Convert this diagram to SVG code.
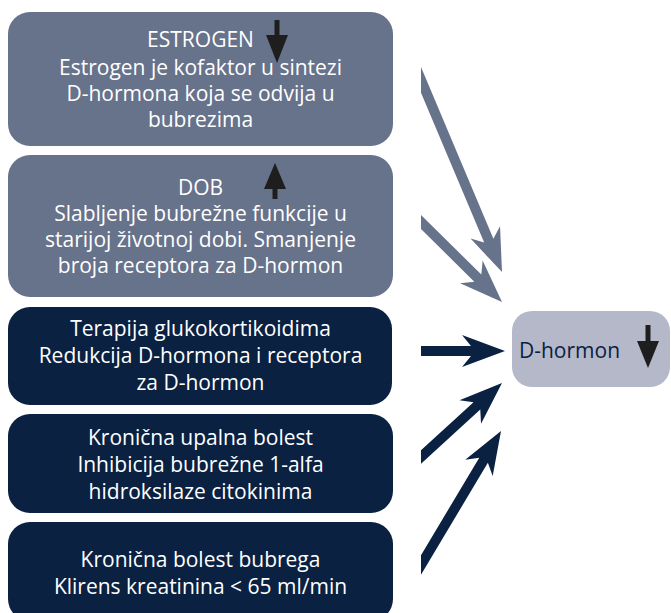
<svg xmlns="http://www.w3.org/2000/svg" width="671" height="613" viewBox="0 0 671 613">
<style>
.gray{fill:#67728b}
.navy{fill:#0a2142}
.t{font-family:"Open Sans","Liberation Sans",sans-serif;font-size:21px;fill:#ffffff;text-anchor:middle}
.dh{font-family:"Open Sans","Liberation Sans",sans-serif;font-size:21px;fill:#0a2142}
.blk{fill:#1e1e1e}
</style>
<defs>
<path id="arr" d="M0,0 L-43,-16 L-34,-5 L-300,-5 L-300,5 L-34,5 L-43,16 Z"/>
<clipPath id="clipR"><rect x="421" y="0" width="250" height="613"/></clipPath>
</defs>
<rect width="671" height="613" fill="#ffffff"/>

<g id="estrogen">
<rect class="gray" x="8" y="12" width="385" height="134" rx="22"/>
<text class="t" x="200.5" y="47">ESTROGEN</text>
<text class="t" x="200.5" y="75">Estrogen je kofaktor u sintezi</text>
<text class="t" x="200.5" y="101">D-hormona koja se odvija u</text>
<text class="t" x="200.5" y="127">bubrezima</text>
<rect class="blk" x="274.5" y="20" width="5" height="18"/>
<polygon class="blk" points="266,35 288,35 277,63"/>
</g>

<g id="dob">
<rect class="gray" x="8" y="155" width="385" height="142" rx="22"/>
<text class="t" x="200.5" y="195">DOB</text>
<text class="t" x="200.5" y="221">Slabljenje bubrežne funkcije u</text>
<text class="t" x="200.5" y="247">starijoj životnoj dobi. Smanjenje</text>
<text class="t" x="200.5" y="273">broja receptora za D-hormon</text>
<rect class="blk" x="272.5" y="186" width="5" height="13"/>
<polygon class="blk" points="275,163 264,189 286,189"/>
</g>

<g id="terapija">
<rect class="navy" x="8" y="307" width="384" height="98" rx="22"/>
<text class="t" x="200.5" y="336">Terapija glukokortikoidima</text>
<text class="t" x="200.5" y="363">Redukcija D-hormona i receptora</text>
<text class="t" x="200.5" y="390">za D-hormon</text>
</g>

<g id="upalna">
<rect class="navy" x="8" y="414" width="385" height="99" rx="22"/>
<text class="t" x="200.5" y="445">Kronična upalna bolest</text>
<text class="t" x="200.5" y="472">Inhibicija bubrežne 1-alfa</text>
<text class="t" x="200.5" y="499">hidroksilaze citokinima</text>
</g>

<g id="bubreg">
<rect class="navy" x="8" y="522" width="385" height="99" rx="22"/>
<text class="t" x="200.5" y="567">Kronična bolest bubrega</text>
<text class="t" x="200.5" y="594">Klirens kreatinina &lt; 65 ml/min</text>
</g>

<g id="dhormon">
<rect x="512" y="311" width="158" height="76" rx="20" fill="#b5b8c9"/>
<text class="dh" x="519" y="358">D-hormon</text>
<rect class="blk" x="645.5" y="325" width="5" height="19"/>
<polygon class="blk" points="637,341 659,341 648,368"/>
</g>

<g id="connectors" clip-path="url(#clipR)">
<use href="#arr" class="gray" transform="translate(502,272) rotate(67.13)"/>
<use href="#arr" class="gray" transform="translate(502,302) rotate(44.65)"/>
<use href="#arr" class="navy" transform="translate(505,351)"/>
<use href="#arr" class="navy" transform="translate(502,383) rotate(-42.41)"/>
<use href="#arr" class="navy" transform="translate(501,431) rotate(-59.16)"/>
</g>
</svg>
